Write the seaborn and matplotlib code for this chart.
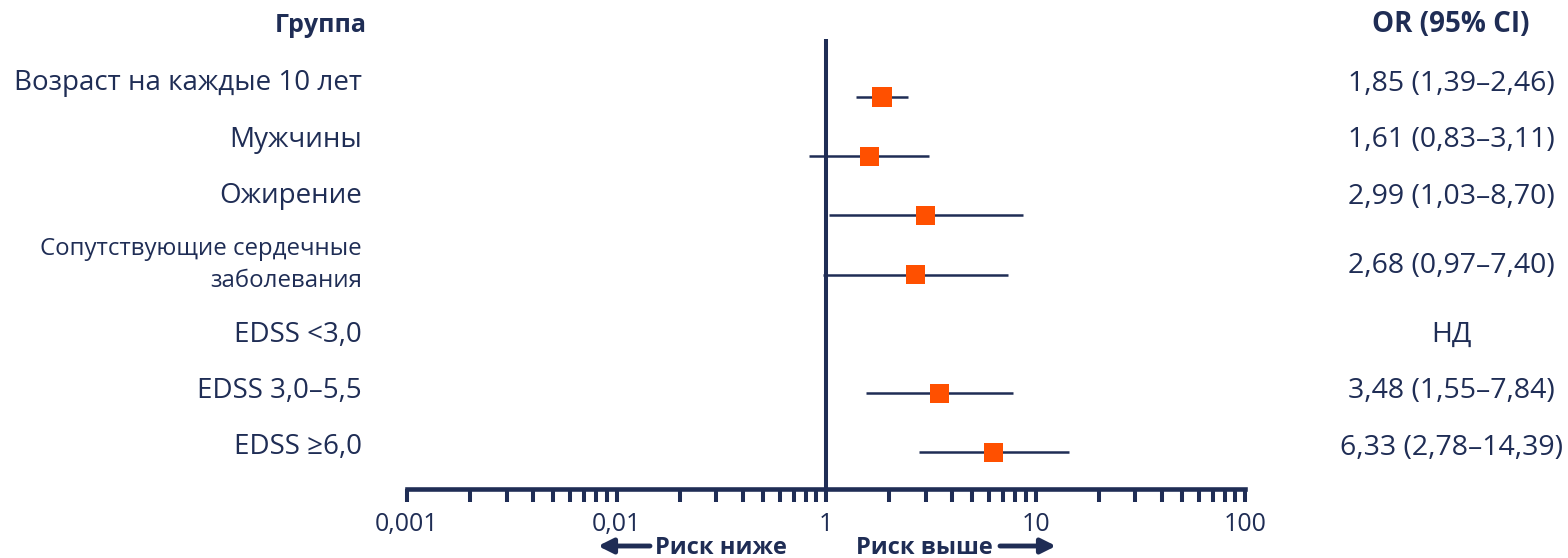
import numpy as np
import pandas as pd
import seaborn as sns
from matplotlib import pyplot as plt
from matplotlib.ticker import FixedLocator, NullFormatter

# данные
groups = ["Возраст на каждые 10 лет", "Мужчины", "Ожирение",
          "Сопутствующие сердечные\nзаболевания", "EDSS <3,0",
          "EDSS 3,0–5,5", "EDSS ≥6,0"]
or_vals = [1.85, 1.61, 2.99, 2.68, np.nan, 3.48, 6.33]
ci_low = [1.39, 0.83, 1.03, 0.97, np.nan, 1.55, 2.78]
ci_high = [2.46, 3.11, 8.70, 7.40, np.nan, 7.84, 14.39]
or_text = ["1,85 (1,39–2,46)", "1,61 (0,83–3,11)", "2,99 (1,03–8,70)",
           "2,68 (0,97–7,40)", "НД", "3,48 (1,55–7,84)", "6,33 (2,78–14,39)"]
tick_vals = [0.01, 0.1, 1, 10, 100]
tick_labels = ["0,001", "0,01", "1", "10", "100"]

df = pd.DataFrame({"group": groups, "OR": or_vals, "lo": ci_low, "hi": ci_high,
                   "row": np.arange(len(groups))})

navy = "#1f2d55"
orange = "#ff5000"

sns.set_theme(style="white")
plt.rcParams["font.family"] = ["Open Sans", "DejaVu Sans"]

fig = plt.figure(figsize=(15.68, 5.58), dpi=100)
ax = fig.add_axes([407 / 1568, 1 - 489 / 558, 838 / 1568, 450 / 558])

# линии ДИ
ax.hlines(df["row"], df["lo"], df["hi"], color=navy, lw=1.8, zorder=2)
ax.axvline(1, color=navy, lw=2.9, zorder=1)
sns.scatterplot(data=df, x="OR", y="row", marker="s", s=190, color=orange,
                edgecolor="none", ax=ax, zorder=3)

ax.set_xscale("log")
ax.set_xlim(0.01, 100)
ax.set_ylim(6.62, -0.98)
ax.set_xlabel("")
ax.set_ylabel("")
ax.set_yticks([])
ax.xaxis.set_major_locator(FixedLocator(tick_vals))
ax.set_xticklabels(tick_labels)
minor = [k * 10.0 ** e for e in range(-2, 2) for k in range(2, 10)]
ax.xaxis.set_minor_locator(FixedLocator(minor))
ax.xaxis.set_minor_formatter(NullFormatter())
ax.tick_params(axis="x", which="both", direction="out", bottom=True,
               length=9.5, width=2.9, color=navy, labelcolor=navy,
               labelsize=18, pad=7)
for s in ["top", "left", "right"]:
    ax.spines[s].set_visible(False)
ax.spines["bottom"].set_color(navy)
ax.spines["bottom"].set_linewidth(3.3)

# подписи строк (базовые линии в единицах строк)
left_y = [-0.12, 0.845, 1.79, 3.21, 4.14, 5.08, 6.03]
right_y = [-0.10, 0.845, 1.81, 2.97, 4.14, 5.08, 6.05]
yt = ax.get_yaxis_transform()
lx = (362 - 407) / 838
rx = (1451 - 407) / 838
for i, g in enumerate(groups):
    fs = 17.3 if "\n" in g else 20
    ax.text(lx, left_y[i], g, transform=yt, ha="right", va="baseline",
            multialignment="right", fontsize=fs, color=navy, clip_on=False,
            linespacing=1.45)
    ax.text(rx, right_y[i], or_text[i], transform=yt, ha="center",
            va="baseline", fontsize=20.5, color=navy, clip_on=False)

ax.text((367 - 407) / 838, -1.10, "Группа", transform=yt, ha="right",
        va="baseline", fontsize=18, fontweight="bold", color=navy, clip_on=False)
ax.text(rx, -1.10, "OR (95% CI)", transform=yt, ha="center",
        va="baseline", fontsize=20, fontweight="bold", color=navy, clip_on=False)

# стрелки внизу
arrow = dict(arrowstyle="-|>", lw=3.5, color=navy, mutation_scale=22,
             shrinkA=0, shrinkB=0)
ax.annotate("", xy=(598, 12), xytext=(650, 12), xycoords="figure pixels",
            textcoords="figure pixels", arrowprops=arrow)
ax.annotate("", xy=(1056, 12), xytext=(1000, 12), xycoords="figure pixels",
            textcoords="figure pixels", arrowprops=arrow)
fig.text(655 / 1568, 4 / 558, "Риск ниже", ha="left", va="baseline",
         fontsize=17, fontweight="bold", color=navy)
fig.text(993 / 1568, 4 / 558, "Риск выше", ha="right", va="baseline",
         fontsize=17, fontweight="bold", color=navy)

fig.savefig("out.png", dpi=100)
